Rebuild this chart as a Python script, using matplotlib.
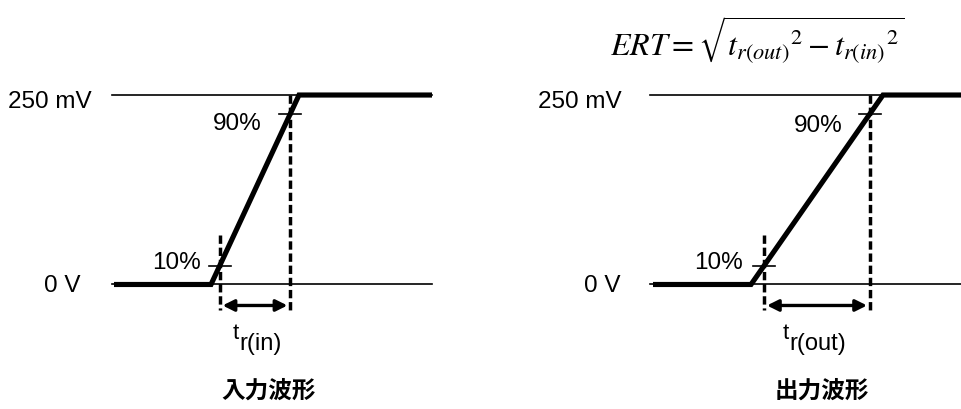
import numpy as np
import matplotlib
matplotlib.use('Agg')
import matplotlib.pyplot as plt

# waveform data: time (arbitrary units) and voltage (mV)
t_in = [0.0, 9.7, 18.5, 31.8]
v_in = [0, 0, 250, 250]
t_out = [0.0, 9.8, 23.0, 30.9]
v_out = [0, 0, 250, 250]
levels = [0, 250]
level_labels = ['0 V', '250 mV']
pct = [10, 90]
pct_labels = ['10%', '90%']

plt.rcParams['font.family'] = ['Liberation Sans', 'DejaVu Sans']

fig = plt.figure(figsize=(9.62, 4.10), dpi=100)
ax_in = fig.add_axes([0, 0, 0.5, 1])
ax_out = fig.add_axes([0.5, 0, 0.5, 1])

fs = 17.5


def panel(ax, t, v, xlim, ref_x, lbl_x, pct_x, pct_y, sub, tr_x, title, title_x):
    ax.set_xlim(*xlim)
    ax.set_ylim(-164.3, 376.7)
    ax.axis('off')
    # reference levels
    for lev, lab, lx in zip(levels, level_labels, lbl_x):
        ax.plot(ref_x, [lev, lev], color='black', lw=1.2, clip_on=False)
        ax.text(lx, lev - (8 if lev > 0 else 1.3), lab, ha='right', va='center', fontsize=fs)
    # waveform
    ax.plot(t, v, color='black', lw=3.7, solid_joinstyle='miter', solid_capstyle='butt',
            clip_on=False, zorder=3)
    # 10% / 90% points on the ramp
    vmax = max(v)
    tp = [np.interp(p / 100 * vmax, v[1:3], t[1:3]) for p in pct]
    for p, tx, lab, px, py in zip(pct, tp, pct_labels, pct_x, pct_y):
        y = p / 100 * vmax
        ax.plot([tx - 1.1, tx + 1.1], [y, y], color='black', lw=1.2, zorder=4)
        ax.text(px, py, lab, ha='right', va='center', fontsize=fs)
    # dashed markers
    ax.plot([tp[0], tp[0]], [65, -33.6], color='black', lw=2.5, linestyle=(0, (2.4, 1.1)))
    ax.plot([tp[1], tp[1]], [vmax, -33.6], color='black', lw=2.5, linestyle=(0, (2.4, 1.1)))
    # rise-time arrow
    ax.annotate('', xy=(tp[1], -27.7), xytext=(tp[0], -27.7),
                arrowprops=dict(arrowstyle='<|-|>', lw=2.4, color='black',
                                mutation_scale=17, shrinkA=2, shrinkB=2))
    # t with subscript
    ax.text(tr_x, -62.7, 't', ha='right', va='center', fontsize=16)
    ax.text(tr_x, -77.2, sub, ha='left', va='center', fontsize=17)
    ax.text(title_x, -139.2, title, ha='center', va='center', fontsize=17,
            family=['Noto Sans CJK JP'], weight='bold')


panel(ax_in, t_in, v_in, (-11.4, 36.7), [-0.2, 31.8], [-3.4, -2.2],
      [8.7, 14.8], [30.3, 213.7], 'r(in)', 12.5, '入力波形', 15.5)
panel(ax_out, t_out, v_out, (-17.2, 30.9), [-0.3, 30.9], [-3.3, -3.1],
      [9.0, 19.0], [30.3, 210.4], 'r(out)', 13.6, '出力波形', 16.9)

fig.text(757 / 962, 1 - 40 / 410, r'$ERT = \sqrt{{t_{r(out)}}^{2} - {t_{r(in)}}^{2}}$',
         ha='center', va='center', fontsize=23, math_fontfamily='stix')

fig.savefig('out.png', dpi=100)
